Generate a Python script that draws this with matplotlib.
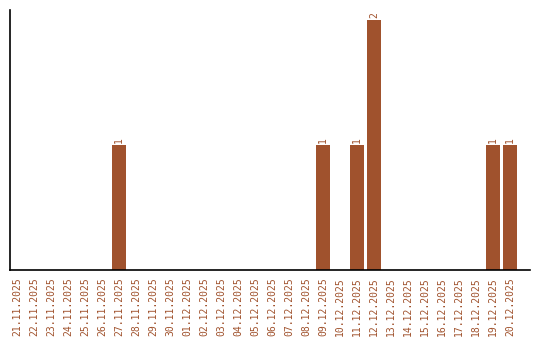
import matplotlib
matplotlib.use("Agg")
import matplotlib.pyplot as plt

# daily counts, 21.11.2025 - 20.12.2025
dates = ["21.11.2025", "22.11.2025", "23.11.2025", "24.11.2025", "25.11.2025",
         "26.11.2025", "27.11.2025", "28.11.2025", "29.11.2025", "30.11.2025",
         "01.12.2025", "02.12.2025", "03.12.2025", "04.12.2025", "05.12.2025",
         "06.12.2025", "07.12.2025", "08.12.2025", "09.12.2025", "10.12.2025",
         "11.12.2025", "12.12.2025", "13.12.2025", "14.12.2025", "15.12.2025",
         "16.12.2025", "17.12.2025", "18.12.2025", "19.12.2025", "20.12.2025"]
counts = [0, 0, 0, 0, 0, 0, 1, 0, 0, 0,
          0, 0, 0, 0, 0, 0, 0, 0, 1, 0,
          1, 2, 0, 0, 0, 0, 0, 0, 1, 1]

bar_color = "#A0522D"
plt.rcParams['font.family'] = ['DejaVu Sans Mono']

fig = plt.figure(figsize=(5.4, 3.4), dpi=100)
ax = fig.add_axes([10 / 540, 70 / 340, 520 / 540, 260 / 340])

x = list(range(len(dates)))
ax.bar(x, counts, width=0.82, color=bar_color)

# value labels above non-empty bars
for i, c in enumerate(counts):
    if c > 0:
        ax.text(i, c + 0.02, str(c), rotation=90, ha='center', va='bottom',
                fontsize=7, color=bar_color)

ax.set_xlim(-0.41, 30.18)
ax.set_ylim(0, 2.08)
ax.set_xticks(x)
ax.set_xticklabels(dates, rotation=90, fontsize=7, color=bar_color)
ax.tick_params(axis='x', length=0, pad=5)
ax.set_yticks([])
ax.spines['top'].set_visible(False)
ax.spines['right'].set_visible(False)
ax.spines['left'].set_linewidth(1.2)
ax.spines['bottom'].set_linewidth(1.2)

fig.savefig("out.png", dpi=100)
